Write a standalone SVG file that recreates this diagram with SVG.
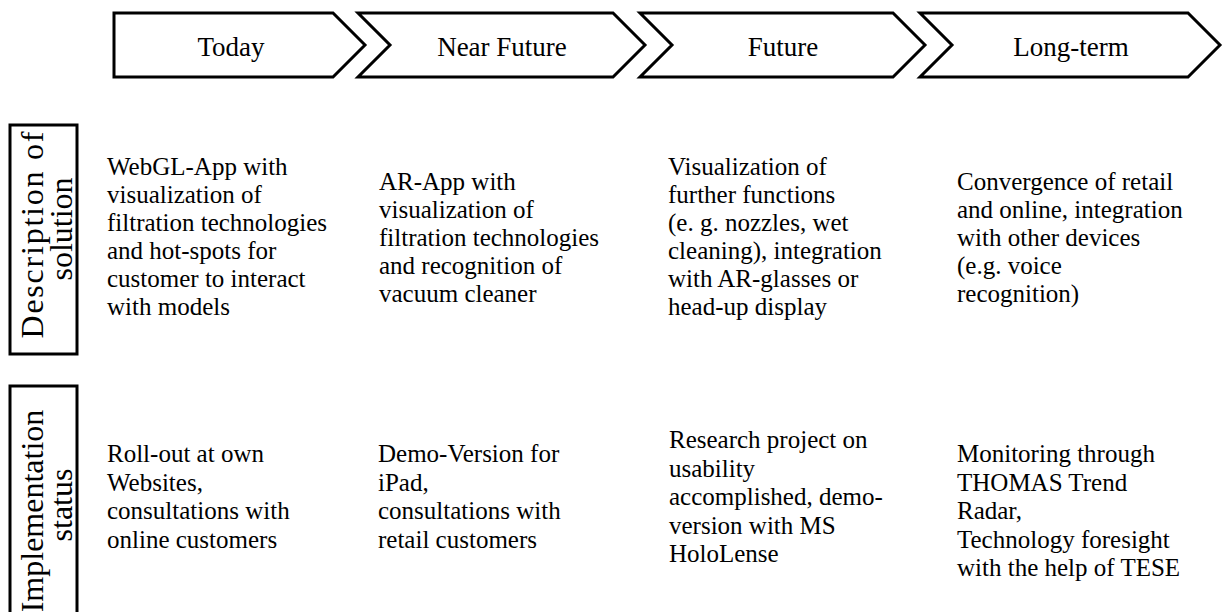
<svg xmlns="http://www.w3.org/2000/svg" width="1223" height="612" viewBox="0 0 1223 612">
<style>
.chev{fill:#fff;stroke:#000;stroke-width:3;stroke-linejoin:miter}
.lbl{fill:#fff;stroke:#000;stroke-width:3}
.h{font-family:"Liberation Serif","Times New Roman",serif;font-size:27px;fill:#000;text-anchor:middle}
.side{font-family:"Liberation Serif","Times New Roman",serif;font-size:32px;fill:#000;text-anchor:middle}
.t{font-family:"Liberation Serif","Times New Roman",serif;font-size:25px;fill:#000}
</style>
<rect width="1223" height="612" fill="#fff"/>
<g id="phase-today">
<path class="chev" d="M114,13 L333,13 L365,45 L333,77 L114,77 Z"/>
<text class="h" x="231" y="56">Today</text>
</g>
<g id="phase-near-future">
<path class="chev" d="M358,13 L613,13 L645,45 L613,77 L358,77 L390,45 Z"/>
<text class="h" x="502" y="56">Near Future</text>
</g>
<g id="phase-future">
<path class="chev" d="M640,13 L893,13 L925,45 L893,77 L640,77 L672,45 Z"/>
<text class="h" x="783" y="56">Future</text>
</g>
<g id="phase-long-term">
<path class="chev" d="M920,13 L1188,13 L1220,45 L1188,77 L920,77 L952,45 Z"/>
<text class="h" x="1071" y="56">Long-term</text>
</g>
<g id="label-description">
<rect class="lbl" x="10" y="125" width="67" height="229"/>
<text class="side" transform="translate(43,235) rotate(-90)" textLength="207" lengthAdjust="spacing">Description of</text>
<text class="side" transform="translate(72,229) rotate(-90)">solution</text>
</g>
<g id="label-implementation">
<rect class="lbl" x="10" y="386" width="67" height="240"/>
<text class="side" transform="translate(43,511) rotate(-90)">Implementation</text>
<text class="side" transform="translate(72,505) rotate(-90)">status</text>
</g>
<g id="desc-today">
<text class="t" x="107" y="175">WebGL-App with</text>
<text class="t" x="107" y="203">visualization of</text>
<text class="t" x="107" y="231">filtration technologies</text>
<text class="t" x="107" y="259">and hot-spots for</text>
<text class="t" x="107" y="287">customer to interact</text>
<text class="t" x="107" y="315">with models</text>
</g>
<g id="desc-near-future">
<text class="t" x="379" y="190">AR-App with</text>
<text class="t" x="379" y="218">visualization of</text>
<text class="t" x="379" y="246">filtration technologies</text>
<text class="t" x="379" y="274">and recognition of</text>
<text class="t" x="379" y="302">vacuum cleaner</text>
</g>
<g id="desc-future">
<text class="t" x="668" y="175">Visualization of</text>
<text class="t" x="668" y="203">further functions</text>
<text class="t" x="668" y="231">(e. g. nozzles, wet</text>
<text class="t" x="668" y="259">cleaning), integration</text>
<text class="t" x="668" y="287">with AR-glasses or</text>
<text class="t" x="668" y="315">head-up display</text>
</g>
<g id="desc-long-term">
<text class="t" x="957" y="190">Convergence of retail</text>
<text class="t" x="957" y="218">and online, integration</text>
<text class="t" x="957" y="246">with other devices</text>
<text class="t" x="957" y="274">(e.g. voice</text>
<text class="t" x="957" y="302">recognition)</text>
</g>
<g id="impl-today">
<text class="t" x="107" y="462">Roll-out at own</text>
<text class="t" x="107" y="490.5">Websites,</text>
<text class="t" x="107" y="519">consultations with</text>
<text class="t" x="107" y="547.5">online customers</text>
</g>
<g id="impl-near-future">
<text class="t" x="378" y="462">Demo-Version for</text>
<text class="t" x="378" y="490.5">iPad,</text>
<text class="t" x="378" y="519">consultations with</text>
<text class="t" x="378" y="547.5">retail customers</text>
</g>
<g id="impl-future">
<text class="t" x="669" y="448">Research project on</text>
<text class="t" x="669" y="476.5">usability</text>
<text class="t" x="669" y="505">accomplished, demo-</text>
<text class="t" x="669" y="533.5">version with MS</text>
<text class="t" x="669" y="562">HoloLense</text>
</g>
<g id="impl-long-term">
<text class="t" x="957" y="462">Monitoring through</text>
<text class="t" x="957" y="490.5">THOMAS Trend</text>
<text class="t" x="957" y="519">Radar,</text>
<text class="t" x="957" y="547.5">Technology foresight</text>
<text class="t" x="957" y="576">with the help of TESE</text>
</g>
<g id="connectors"></g>
</svg>
